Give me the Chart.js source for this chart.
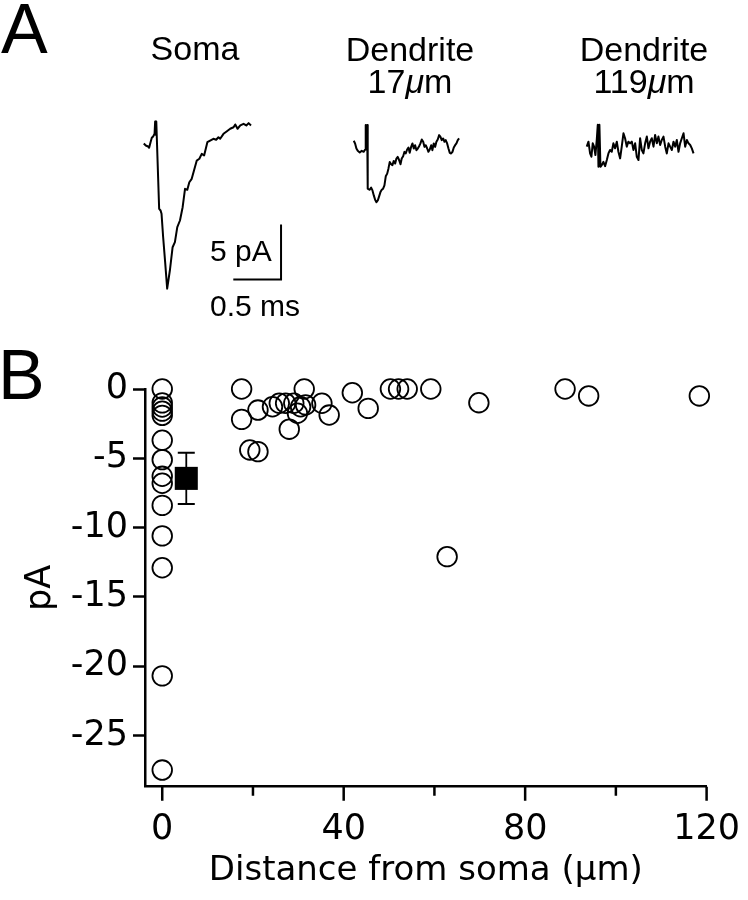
<!DOCTYPE html>
<html><head><meta charset="utf-8">
<script src="https://cdn.jsdelivr.net/npm/chart.js@4.4.1/dist/chart.umd.min.js"></script>
<style>
html,body{margin:0;padding:0;background:#fff;}
body{width:748px;height:900px;position:relative;overflow:hidden;font-family:"Liberation Sans",Arial,Helvetica,sans-serif;color:#000;}
canvas{position:absolute;}
.t{position:absolute;white-space:nowrap;line-height:1;}
.c{text-align:center;}
</style></head><body>
<canvas id="chartB" width="748" height="900" style="left:0;top:0"></canvas>
<canvas id="soma"></canvas>
<canvas id="dend17"></canvas>
<canvas id="dend119"></canvas>
<div class="t" style="font-size:70px;left:1px;top:-6px">A</div>
<div class="t" style="font-size:70px;left:-2px;top:340px">B</div>
<div class="t c" style="font-size:34px;left:95px;width:200px;top:31px">Soma</div>
<div class="t c" style="font-size:34px;line-height:31.6px;left:310px;width:200px;top:34px">Dendrite<br>17<i>μ</i>m</div>
<div class="t c" style="font-size:34px;line-height:31.6px;left:544px;width:200px;top:34px">Dendrite<br>119<i>μ</i>m</div>
<div class="t" style="font-size:30px;left:210px;top:236px">5 pA</div>
<div class="t" style="font-size:30px;left:210px;top:291px">0.5 ms</div>
<script>
// ---------- Panel A: example traces (time in ms, current in pA) ----------
const somaT = [0,0.021,0.045,0.056,0.071,0.084,0.098,0.113,0.119,0.124,0.131,0.161,0.176,0.186,0.203,0.224,0.245,0.274,0.302,0.326,0.351,0.379,0.407,0.432,0.456,0.477,0.502,0.526,0.555,0.582,0.607,0.632,0.666,0.695,0.729,0.758,0.782,0.8,0.835,0.871,0.905,0.94,0.958,0.982,1.011,1.045,1.074,1.098,1.123];
const somaI = [0,-0.18,-0.27,-0.39,0.12,0.52,0.64,0.88,2.0,0.8,2.0,-5.94,-6.09,-6.39,-8.52,-10.8,-13.2,-11.5,-9.43,-8.97,-7.61,-7.0,-5.79,-4.12,-4.21,-3.52,-3.21,-2.45,-1.55,-1.39,-0.94,-1.09,0.12,0.27,0.43,0.34,0.57,0.43,0.88,1.12,1.34,1.48,1.73,1.34,1.64,1.79,1.64,1.85,1.64];

const dend17T = [0,0.014,0.028,0.042,0.063,0.084,0.105,0.12,0.126,0.134,0.141,0.147,0.168,0.183,0.197,0.211,0.225,0.239,0.253,0.267,0.281,0.295,0.309,0.323,0.337,0.352,0.365,0.379,0.394,0.407,0.421,0.436,0.449,0.463,0.478,0.492,0.505,0.52,0.534,0.547,0.562,0.576,0.589,0.604,0.618,0.632,0.646,0.66,0.674,0.688,0.702,0.716,0.731,0.744,0.758,0.773,0.786,0.8,0.815,0.828,0.842,0.857,0.87,0.884,0.899,0.913,0.926,0.941,0.955,0.968,0.983,0.997,1.011,1.025,1.039,1.053,1.067,1.081,1.095,1.109];
const dend17I = [0.85,0.61,0.15,-0.06,-0.21,-0.06,-0.15,0.06,2.27,0.06,2.27,-3.48,-3.58,-3.39,-3.64,-4.09,-4.48,-4.7,-4.55,-4.18,-3.79,-3.58,-3.48,-3.18,-2.36,-2.12,-1.67,-1.06,-1.27,-1.36,-0.97,-1.21,-0.76,-0.61,-0.91,-1.27,-0.76,-0.55,-0.15,-0.3,0.06,0.24,-0.24,0.3,0.61,0.15,0.45,0,0.15,0.36,0.61,0.97,0.76,0.3,0.45,0.15,-0.15,0.06,0.45,0,0.61,0.3,0.76,0.97,1.36,1.21,0.91,1.06,0.76,0.91,0.61,0.15,-0.24,-0.3,-0.15,0.24,0.45,0.61,0.91,1.06];

const dend119T = [0,0.018,0.035,0.049,0.063,0.077,0.091,0.105,0.116,0.123,0.133,0.144,0.158,0.175,0.193,0.211,0.228,0.245,0.263,0.28,0.298,0.316,0.333,0.351,0.368,0.386,0.403,0.421,0.438,0.456,0.474,0.491,0.509,0.526,0.544,0.561,0.579,0.596,0.614,0.632,0.649,0.666,0.684,0.702,0.719,0.737,0.754,0.772,0.789,0.807,0.825,0.842,0.86,0.877,0.895,0.912,0.93,0.947,0.965,0.982,1.0,1.018,1.035,1.053,1.07,1.088,1.105,1.123];
const dend119I = [-0.15,0.3,-0.76,-1.06,0.15,-0.15,-0.91,0.45,1.82,-1.97,1.82,-1.97,-1.82,-1.52,-1.91,-1.36,-0.76,-0.45,-0.61,0.15,-0.3,0.3,-0.61,-1.21,-0.15,1.06,0.61,-0.15,0.3,0.15,0.3,-0.45,0.15,-1.06,-1.36,0.61,-0.45,-0.76,0.15,0.76,-0.3,0.3,0.61,-0.15,0.91,0.15,0.76,0,0.45,0.76,-0.15,-0.76,0.15,-0.15,-0.45,0.3,-0.15,0.45,-0.61,0.15,0.61,1.06,-0.15,0.45,0.15,0,-0.3,-0.76];

const scaleBarMs = 0.5;
const scaleBarPA = 5;

// ---------- Panel B: amplitude vs distance ----------
const somaDist = [0,0,0,0,0,0,0,0,0,0,0,0,0,0];
const somaAmp  = [0,-1.0,-1.3,-1.6,-1.9,-3.7,-5.1,-6.3,-6.8,-8.4,-10.6,-12.9,-20.7,-27.5];
const dendDist = [17.5,17.5,21.1,19.3,21.1,24.3,25.8,27.2,29.0,28.0,29.8,30.5,31.6,31.3,35.2,36.8,41.9,45.4,50.3,52.1,54.0,59.2,62.8,69.8,88.8,94.0,118.4];
const dendAmp  = [0,-2.19,-1.52,-4.4,-4.52,-1.28,-1.03,-1.03,-1.03,-2.9,-1.75,-1.28,-1.15,0,-1.03,-1.88,-0.27,-1.4,0,0,0,0,-12.1,-0.99,0,-0.5,-0.5];
const meanDist = [5.3];
const meanAmp  = [-6.45];
const meanLow  = [-8.3];
const meanHigh = [-4.6];

const xMajorTicks = [0,40,80,120];
const xMinorTicks = [20,60,100];
const yTicks = [0,-5,-10,-15,-20,-25];

// ---------- drawing ----------
const AXFAM = '"DejaVu Sans", Verdana, sans-serif';
const PX_PER_MS = 95.3, PX_PER_PA = 11;
const pts = (xs, ys) => xs.map((x, i) => ({x: x, y: ys[i]}));

function makeTrace(id, t, I, origin, range, extraSets) {
  const c = document.getElementById(id);
  const w = Math.round((range.tMax - range.tMin) * PX_PER_MS);
  const h = Math.round((range.iMax - range.iMin) * PX_PER_PA);
  c.width = w; c.height = h;
  c.style.width = w + 'px'; c.style.height = h + 'px';
  c.style.left = (origin.x + range.tMin * PX_PER_MS) + 'px';
  c.style.top = (origin.y - range.iMax * PX_PER_PA) + 'px';
  const sets = [{data: pts(t, I), borderColor: '#000', borderWidth: 2, pointRadius: 0, tension: 0, clip: false, fill: false, borderJoinStyle: 'round'}].concat(extraSets || []);
  new Chart(c, {
    type: 'line',
    data: {datasets: sets},
    options: {
      responsive: false, animation: false, devicePixelRatio: 1, events: [],
      layout: {padding: 0},
      plugins: {legend: {display: false}, tooltip: {enabled: false}},
      scales: {
        x: {type: 'linear', display: false, min: range.tMin, max: range.tMax},
        y: {type: 'linear', display: false, min: range.iMin, max: range.iMax}
      }
    }
  });
}

// scale bar drawn in the soma trace's own ms / pA coordinates
const barCorner = {t: 1.4376, i: -12.36};
const scaleBarSet = {
  data: [{x: barCorner.t - scaleBarMs, y: barCorner.i}, {x: barCorner.t, y: barCorner.i}, {x: barCorner.t, y: barCorner.i + scaleBarPA}],
  borderColor: '#000', borderWidth: 2, pointRadius: 0, tension: 0, clip: false, borderJoinStyle: 'miter'
};

makeTrace('soma', somaT, somaI, {x: 144, y: 143}, {tMin: -0.05, tMax: 1.5, iMin: -14.5, iMax: 2.5}, [scaleBarSet]);
makeTrace('dend17', dend17T, dend17I, {x: 353.3, y: 150}, {tMin: -0.05, tMax: 1.15, iMin: -5.5, iMax: 3}, []);
makeTrace('dend119', dend119T, dend119I, {x: 586.7, y: 145}, {tMin: -0.05, tMax: 1.17, iMin: -2.8, iMax: 2.8}, []);

const extras = {
  id: 'extras',
  afterDraw(chart) {
    const ctx = chart.ctx, xs = chart.scales.x, ys = chart.scales.y;
    const base = chart.chartArea.bottom;
    ctx.save();
    ctx.strokeStyle = '#000';
    ctx.lineWidth = 2.5;
    ctx.beginPath();
    xMajorTicks.forEach(v => { const px = xs.getPixelForValue(v); ctx.moveTo(px, base); ctx.lineTo(px, base + 14); });
    xMinorTicks.forEach(v => { const px = xs.getPixelForValue(v); ctx.moveTo(px, base); ctx.lineTo(px, base + 9); });
    ctx.stroke();
    // error bars for the mean
    ctx.lineWidth = 1.8;
    ctx.beginPath();
    meanDist.forEach((d, i) => {
      const px = xs.getPixelForValue(d);
      const lo = ys.getPixelForValue(meanLow[i]), hi = ys.getPixelForValue(meanHigh[i]);
      ctx.moveTo(px, lo); ctx.lineTo(px, hi);
      ctx.moveTo(px - 8.5, lo); ctx.lineTo(px + 8.5, lo);
      ctx.moveTo(px - 8.5, hi); ctx.lineTo(px + 8.5, hi);
    });
    ctx.stroke();
    ctx.restore();
  }
};

const openCircle = {pointStyle: 'circle', pointRadius: 9.8, borderColor: '#000', backgroundColor: 'rgba(0,0,0,0)', borderWidth: 1.8, clip: false, showLine: false};

new Chart(document.getElementById('chartB'), {
  type: 'scatter',
  data: {datasets: [
    Object.assign({data: pts(somaDist, somaAmp)}, openCircle),
    Object.assign({data: pts(dendDist, dendAmp)}, openCircle),
    {data: pts(meanDist, meanAmp), pointStyle: 'rect', pointRadius: 16.3, backgroundColor: '#000', borderColor: '#000', borderWidth: 0, clip: false}
  ]},
  options: {
    responsive: false, animation: false, devicePixelRatio: 1, events: [],
    layout: {padding: {top: 389, right: 31, bottom: 0, left: 0}},
    plugins: {legend: {display: false}, tooltip: {enabled: false}},
    scales: {
      x: {
        type: 'linear', min: -3.8, max: 120,
        afterBuildTicks: s => { s.ticks = xMajorTicks.map(v => ({value: v})); },
        afterFit: s => { s.height = 113.3; },
        grid: {display: false, drawTicks: true, tickLength: 14},
        border: {display: true, color: '#000', width: 2.5},
        ticks: {font: {family: AXFAM, size: 35}, color: '#000', padding: 8, maxRotation: 0, autoSkip: false},
        title: {display: true, text: 'Distance from soma (μm)', font: {family: AXFAM, size: 34}, color: '#000', padding: {top: 0, bottom: 8}}
      },
      y: {
        type: 'linear', min: -28.7, max: 0,
        afterBuildTicks: s => { s.ticks = yTicks.map(v => ({value: v})); },
        afterFit: s => { s.width = 145; },
        grid: {display: true, drawOnChartArea: false, drawTicks: true, tickLength: 12, tickWidth: 2.5, tickColor: '#000'},
        border: {display: true, color: '#000', width: 2.5},
        ticks: {font: {family: AXFAM, size: 35}, color: '#000', padding: 5},
        title: {display: true, text: 'pA', font: {family: AXFAM, size: 35}, color: '#000', padding: {top: 20, bottom: 0}}
      }
    }
  },
  plugins: [extras]
});
</script>
</body></html>
